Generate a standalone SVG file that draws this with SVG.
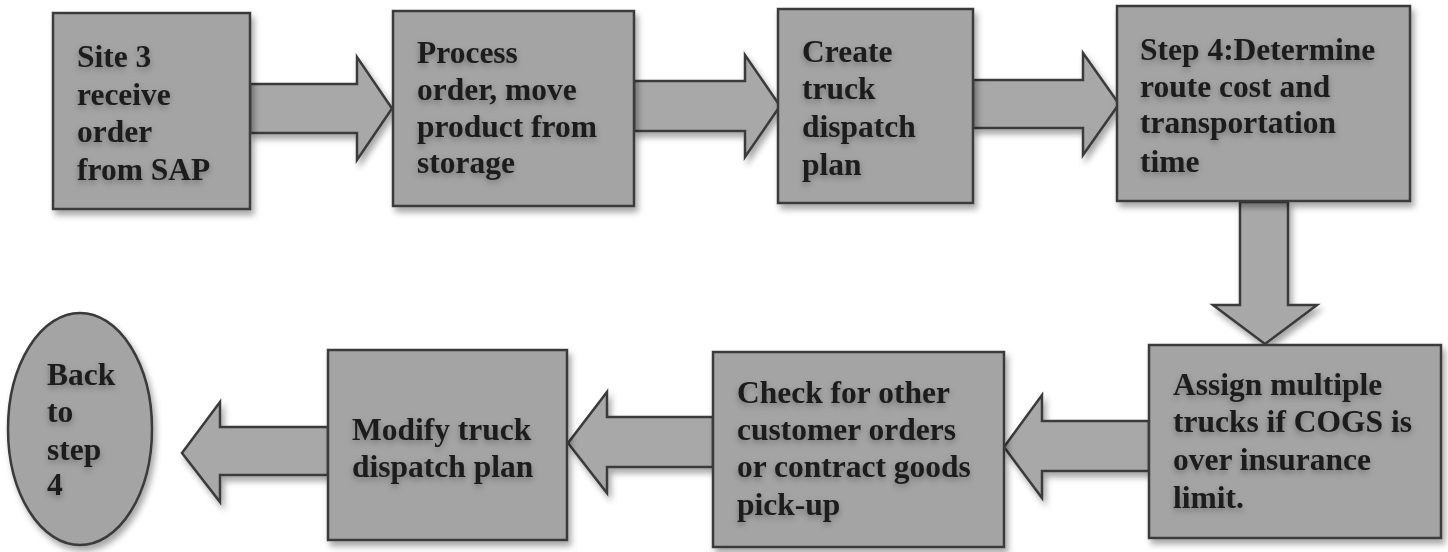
<svg xmlns="http://www.w3.org/2000/svg" width="1448" height="552" viewBox="0 0 1448 552">
  <defs>
    <filter id="shadow" x="-10%" y="-10%" width="125%" height="125%">
      <feDropShadow dx="3" dy="5" stdDeviation="3" flood-color="#000" flood-opacity="0.35"/>
    </filter>
    <filter id="textglow" x="-5%" y="-20%" width="110%" height="150%">
      <feGaussianBlur in="SourceAlpha" stdDeviation="3" result="b"/>
      <feOffset in="b" dy="3" result="o"/>
      <feFlood flood-color="#000" flood-opacity="0.3"/>
      <feComposite in2="o" operator="in" result="s"/>
      <feMerge><feMergeNode in="s"/><feMergeNode in="SourceGraphic"/></feMerge>
    </filter>
  </defs>
  <style>
    .box { fill: #a4a4a4; stroke: #3a3a3a; stroke-width: 2.5; filter: url(#shadow); }
    .arrow { fill: #a8a8a8; stroke: #3a3a3a; stroke-width: 2.5; stroke-linejoin: miter; filter: url(#shadow); }
    .label { font-family: "Liberation Serif", "Times New Roman", serif; font-weight: bold; font-size: 31.5px; fill: #1c1c1c; filter: url(#textglow); }
  </style>
  <rect width="1448" height="552" fill="#ffffff"/>

  <!-- block arrows between the steps -->
  <g id="connectors">
    <polygon class="arrow" points="250,84 357,84 357,57 392,108.5 357,160 357,133 250,133"/>
    <polygon class="arrow" points="634,81 745,81 745,55 780,106 745,157 745,131 634,131"/>
    <polygon class="arrow" points="973,80 1083,80 1083,53 1119,104 1083,155 1083,128 973,128"/>
    <polygon class="arrow" points="1240,202 1288,202 1288,305 1317,305 1265,344 1213,305 1240,305"/>
    <polygon class="arrow" points="1149,421 1042,421 1042,395 1004,447 1042,498 1042,471 1149,471"/>
    <polygon class="arrow" points="713,417 607,417 607,392 568,443 607,493 607,467 713,467"/>
    <polygon class="arrow" points="328,427 220,427 220,402 182,453 220,502 220,475 328,475"/>
  </g>

  <g id="step1">
    <rect class="box" x="53" y="13" width="197" height="196"/>
    <text class="label"><tspan x="77" y="67">Site 3</tspan><tspan x="77" y="105">receive</tspan><tspan x="77" y="142">order</tspan><tspan x="77" y="180">from SAP</tspan></text>
  </g>

  <g id="step2">
    <rect class="box" x="393" y="11" width="241" height="195"/>
    <text class="label"><tspan x="417" y="63">Process</tspan><tspan x="417" y="100">order, move</tspan><tspan x="417" y="137">product from</tspan><tspan x="417" y="173">storage</tspan></text>
  </g>

  <g id="step3">
    <rect class="box" x="778" y="9" width="195" height="194"/>
    <text class="label"><tspan x="802" y="62">Create</tspan><tspan x="802" y="99">truck</tspan><tspan x="802" y="137">dispatch</tspan><tspan x="802" y="175">plan</tspan></text>
  </g>

  <g id="step4">
    <rect class="box" x="1117" y="6" width="293" height="195"/>
    <text class="label"><tspan x="1140" y="60">Step 4:Determine</tspan><tspan x="1140" y="97">route cost and</tspan><tspan x="1140" y="133">transportation</tspan><tspan x="1140" y="172">time</tspan></text>
  </g>

  <g id="step5">
    <rect class="box" x="1149" y="345" width="292" height="193"/>
    <text class="label"><tspan x="1173" y="395">Assign multiple</tspan><tspan x="1173" y="432">trucks if COGS is</tspan><tspan x="1173" y="470">over insurance</tspan><tspan x="1173" y="508">limit.</tspan></text>
  </g>

  <g id="step6">
    <rect class="box" x="713" y="352" width="291" height="195"/>
    <text class="label"><tspan x="737" y="403">Check for other</tspan><tspan x="737" y="440">customer orders</tspan><tspan x="737" y="477">or contract goods</tspan><tspan x="737" y="515">pick-up</tspan></text>
  </g>

  <g id="step7">
    <rect class="box" x="328" y="350" width="239" height="190"/>
    <text class="label"><tspan x="352" y="440">Modify truck</tspan><tspan x="352" y="477">dispatch plan</tspan></text>
  </g>

  <g id="back-to-step4">
    <ellipse class="box" cx="80" cy="429" rx="72" ry="116"/>
    <text class="label"><tspan x="47" y="385">Back</tspan><tspan x="47" y="422">to</tspan><tspan x="47" y="460">step</tspan><tspan x="47" y="495">4</tspan></text>
  </g>
</svg>
